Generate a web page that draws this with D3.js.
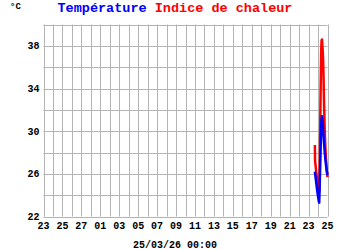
<!DOCTYPE html>
<html>
<head>
<meta charset="utf-8">
<script src="https://cdn.jsdelivr.net/npm/d3@7"></script>
<style>
	body { margin: 0; background: #fff; }
	svg text { font-family: "Liberation Mono", "DejaVu Sans Mono", monospace; font-weight: bold; }
</style>
</head>
<body>
<svg id="chart"></svg>
<script>
// hours counted from 24/03/2026 00:00
const tempHours = [-8, -6, -4, -2, 0, 2, 3, 4, 5, 6, 7, 8, 9, 10, 11, 12, 13, 14, 15, 16, 17, 18, 19, 20, 21, 22, 23, 24];
const tempValues = [26.2, 25.6, 25.0, 24.4, 23.9, 23.4, 23.3, 24.5, 26.0, 27.5, 29.0, 30.5, 31.2, 31.4, 31.2, 30.8, 30.0, 29.5, 29.0, 28.5, 28.0, 27.6, 27.2, 26.9, 26.6, 26.3, 26.1, 25.9];
const heatHours = [-8, -7.5, -6, -4, -2, 0, 2, 3, 4, 5, 6, 7, 8, 9, 10, 11, 12, 13, 14, 15, 16, 17, 18, 19, 20, 21, 22, 23, 24];
const heatValues = [28.7, 27.2, 26.7, 26.0, 25.3, 24.7, 24.3, 24.4, 26.0, 29.0, 32.0, 35.0, 37.5, 38.5, 38.6, 38.0, 37.5, 36.5, 35.0, 33.0, 31.5, 30.0, 29.0, 28.2, 27.5, 27.0, 26.4, 26.0, 25.7];
const yTicks = [22, 26, 30, 34, 38];
const titleParts = [{text: "Température", color: "#0000ff"}, {text: " Indice de chaleur", color: "#ff0000"}];
const dateLabel = "25/03/26 00:00";

const width = 350, height = 250;
const margin = {top: 24.5, right: 22.5, bottom: 33.5, left: 43.5};
const svg = d3.select("#chart").attr("width", width).attr("height", height);

const start = new Date(2026, 1, 23);
const end = new Date(2026, 2, 25);
const origin = new Date(2026, 2, 24);

const x = d3.scaleTime().domain([start, end]).range([margin.left, width - margin.right]);
const y = d3.scaleLinear().domain([22, 40]).range([height - margin.bottom, margin.top]);

const toDate = h => new Date(origin.getTime() + h * 3600 * 1000);
const temp = tempHours.map((h, i) => ({t: toDate(h), v: tempValues[i]}));
const heat = heatHours.map((h, i) => ({t: toDate(h), v: heatValues[i]}));

const gridColor = "#b4b4b4";
const grid = svg.append("g").attr("stroke", gridColor).attr("stroke-width", 1);

//vertical gridlines every day
grid.selectAll("line.v")
	.data(d3.timeDay.range(start, d3.timeDay.offset(end, 1)))
	.enter()
	.append("line")
	.attr("x1", d => Math.round(x(d)) + 0.5)
	.attr("x2", d => Math.round(x(d)) + 0.5)
	.attr("y1", y(22))
	.attr("y2", y(40));

//horizontal gridlines every 2
grid.selectAll("line.h")
	.data(d3.range(22, 41, 2))
	.enter()
	.append("line")
	.attr("x1", x(start))
	.attr("x2", x(end))
	.attr("y1", d => Math.round(y(d)) + 0.5)
	.attr("y2", d => Math.round(y(d)) + 0.5);

svg.append("g")
	.selectAll("text")
	.data(yTicks)
	.enter()
	.append("text")
	.attr("x", margin.left - 4)
	.attr("y", d => y(d))
	.attr("dy", "0.35em")
	.attr("text-anchor", "end")
	.attr("font-size", 10)
	.text(d => d);

svg.append("g")
	.selectAll("text")
	.data(d3.timeDay.range(start, d3.timeDay.offset(end, 1)).filter((d, i) => i % 2 === 0))
	.enter()
	.append("text")
	.attr("x", d => x(d))
	.attr("y", y(22) + 12)
	.attr("text-anchor", "middle")
	.attr("font-size", 10)
	.text(d => d3.timeFormat("%d")(d));

const line = d3.line()
	.x(d => x(d.t))
	.y(d => y(d.v));

svg.append("path")
	.datum(heat)
	.attr("fill", "none")
	.attr("stroke", "#ff0000")
	.attr("stroke-width", 2.5)
	.attr("stroke-linejoin", "round")
	.attr("d", line);

svg.append("path")
	.datum(temp)
	.attr("fill", "none")
	.attr("stroke", "#0000ff")
	.attr("stroke-width", 2.5)
	.attr("stroke-linejoin", "round")
	.attr("d", line);

const title = svg.append("text")
	.attr("x", width / 2)
	.attr("y", 12)
	.attr("text-anchor", "middle")
	.attr("font-size", 13.5);
title.selectAll("tspan")
	.data(titleParts)
	.enter()
	.append("tspan")
	.attr("fill", d => d.color)
	.text(d => d.text);

svg.append("text")
	.attr("x", 10)
	.attr("y", 9)
	.attr("font-size", 9)
	.text("°C");

svg.append("text")
	.attr("x", width / 2)
	.attr("y", 248)
	.attr("text-anchor", "middle")
	.attr("font-size", 10)
	.text(dateLabel);
</script>
</body>
</html>
